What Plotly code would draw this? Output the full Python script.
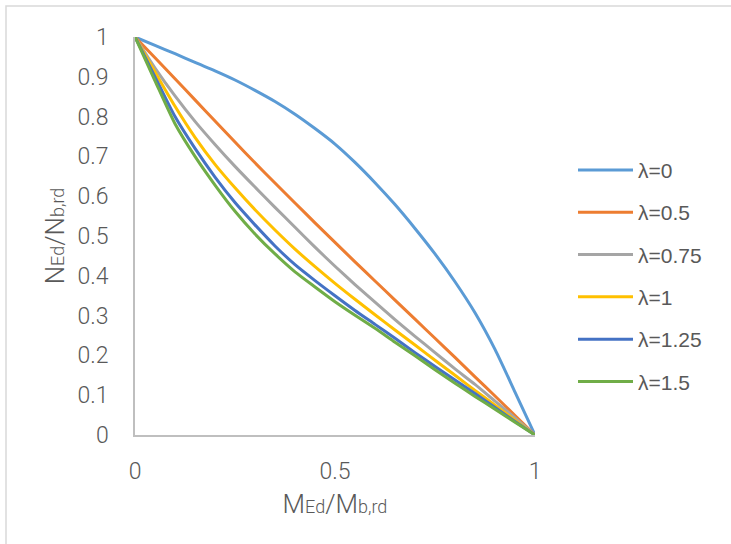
import plotly.graph_objects as go

x_vals = [0, 0.05, 0.1, 0.15, 0.2, 0.25, 0.3, 0.35, 0.4, 0.45, 0.5,
          0.55, 0.6, 0.65, 0.7, 0.75, 0.8, 0.85, 0.9, 0.95, 1]

lam_0 = [1, 0.979, 0.958, 0.936, 0.915, 0.892, 0.866, 0.838, 0.806, 0.77, 0.731,
         0.685, 0.634, 0.579, 0.519, 0.455, 0.385, 0.307, 0.215, 0.108, 0]
lam_05 = [1, 0.948, 0.895, 0.842, 0.789, 0.736, 0.684, 0.633, 0.583, 0.533, 0.484,
          0.435, 0.387, 0.339, 0.291, 0.243, 0.195, 0.146, 0.098, 0.049, 0]
lam_075 = [1, 0.922, 0.852, 0.788, 0.73, 0.675, 0.623, 0.572, 0.522, 0.472, 0.424,
           0.378, 0.334, 0.29, 0.248, 0.207, 0.166, 0.127, 0.085, 0.043, 0]
lam_1 = [1, 0.912, 0.826, 0.748, 0.68, 0.621, 0.566, 0.515, 0.467, 0.423, 0.381,
         0.341, 0.302, 0.264, 0.226, 0.188, 0.15, 0.112, 0.075, 0.037, 0]
lam_125 = [1, 0.90, 0.80, 0.72, 0.648, 0.584, 0.528, 0.475, 0.428, 0.388, 0.35,
           0.313, 0.278, 0.243, 0.207, 0.172, 0.138, 0.104, 0.069, 0.034, 0]
lam_15 = [1, 0.89, 0.782, 0.70, 0.628, 0.562, 0.505, 0.455, 0.41, 0.372, 0.335,
          0.301, 0.268, 0.233, 0.199, 0.164, 0.13, 0.097, 0.065, 0.032, 0]

series_names = ["λ=0", "λ=0.5", "λ=0.75", "λ=1", "λ=1.25", "λ=1.5"]
series_values = [lam_0, lam_05, lam_075, lam_1, lam_125, lam_15]
series_colors = ["#5B9BD5", "#ED7D31", "#A5A5A5", "#FFC000", "#4472C4", "#70AD47"]

x_ticks = [0, 0.5, 1]
x_tick_labels = ["0", "0.5", "1"]
y_ticks = [0, 0.1, 0.2, 0.3, 0.4, 0.5, 0.6, 0.7, 0.8, 0.9, 1]
y_tick_labels = ["0", "0.1", "0.2", "0.3", "0.4", "0.5", "0.6", "0.7", "0.8", "0.9", "1"]

fig = go.Figure()
for i, (name, vals, col) in enumerate(zip(series_names, series_values, series_colors)):
    fig.add_trace(go.Scatter(
        x=x_vals, y=vals, name=name, mode="lines",
        line=dict(color=col, width=3, shape="spline", smoothing=0.6),
        cliponaxis=False, legendgroup=f"g{i}",
    ))

axis_font = dict(family="Roboto, Lato, sans-serif", size=23, color="#595959", weight=300)
title_font = dict(family="Roboto, Lato, sans-serif", size=26, color="#595959", weight=300)

fig.update_layout(
    width=731, height=544,
    margin=dict(l=135, r=196, t=37, b=109),
    paper_bgcolor="white", plot_bgcolor="white",
    showlegend=True,
    legend=dict(
        x=1.095, xanchor="left", y=0.40, yanchor="middle",
        font=dict(family="Liberation Sans, Arial, sans-serif", size=21, color="#595959"),
        itemwidth=55, traceorder="grouped", tracegroupgap=12,
        bgcolor="rgba(0,0,0,0)",
    ),
    xaxis=dict(
        range=[0, 1], tickvals=x_ticks, ticktext=x_tick_labels,
        showgrid=False, zeroline=False, showline=True, linecolor="#BFBFBF", linewidth=1.5,
        ticks="", tickfont=axis_font, ticklabelstandoff=15,
        title=dict(
            text="M<span style='font-size:18px'>Ed</span>/M<span style='font-size:18px'>b,rd</span>",
            font=title_font, standoff=10,
        ),
    ),
    yaxis=dict(
        range=[0, 1], tickvals=y_ticks, ticktext=y_tick_labels,
        showgrid=False, zeroline=False, showline=True, linecolor="#BFBFBF", linewidth=1.5,
        ticks="", tickfont=axis_font, ticklabelstandoff=20,
        title=dict(
            text="N<span style='font-size:18px'>Ed</span>/N<span style='font-size:18px'>b,rd</span>",
            font=title_font, standoff=6,
        ),
    ),
    shapes=[dict(
        type="rect", xref="paper", yref="paper",
        x0=(6 - 135) / 400, x1=(745 - 135) / 400,
        y0=(435 - 560) / 398, y1=(435 - 6) / 398,
        line=dict(color="#D9D9D9", width=1.5), fillcolor="rgba(0,0,0,0)", layer="below",
    )],
)

fig.write_html("out.html", config={"displayModeBar": False},
               post_script="document.body.style.margin='0';")
